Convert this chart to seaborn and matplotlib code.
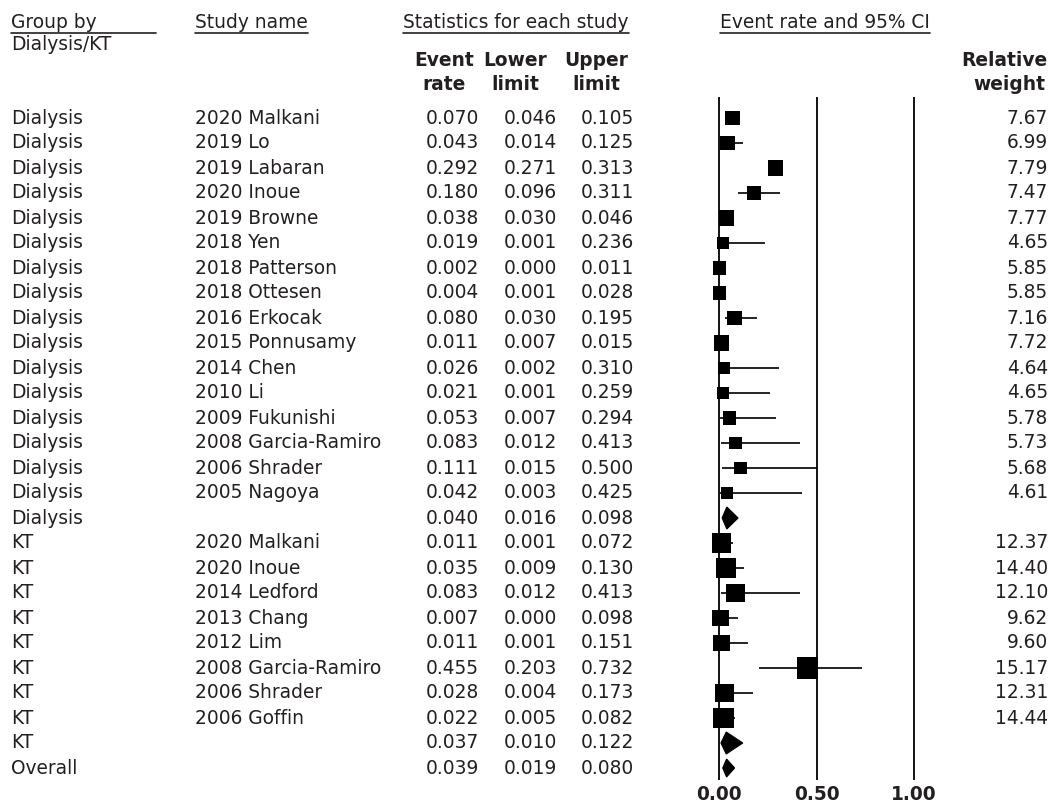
import numpy as np
import pandas as pd
import matplotlib
matplotlib.use("Agg")
import matplotlib.pyplot as plt
import matplotlib.transforms as mtransforms
from matplotlib.patches import Polygon
import seaborn as sns

# ---------------- data ----------------
groups = ["Dialysis"] * 17 + ["KT"] * 9 + ["Overall"]
studies = [
    "2020 Malkani", "2019 Lo", "2019 Labaran", "2020 Inoue", "2019 Browne",
    "2018 Yen", "2018 Patterson", "2018 Ottesen", "2016 Erkocak", "2015 Ponnusamy",
    "2014 Chen", "2010 Li", "2009 Fukunishi", "2008 Garcia-Ramiro", "2006 Shrader",
    "2005 Nagoya", "",
    "2020 Malkani", "2020 Inoue", "2014 Ledford", "2013 Chang", "2012 Lim",
    "2008 Garcia-Ramiro", "2006 Shrader", "2006 Goffin", "",
    "",
]
event_rate = [0.070, 0.043, 0.292, 0.180, 0.038, 0.019, 0.002, 0.004, 0.080, 0.011,
              0.026, 0.021, 0.053, 0.083, 0.111, 0.042, 0.040,
              0.011, 0.035, 0.083, 0.007, 0.011, 0.455, 0.028, 0.022, 0.037,
              0.039]
lower_limit = [0.046, 0.014, 0.271, 0.096, 0.030, 0.001, 0.000, 0.001, 0.030, 0.007,
               0.002, 0.001, 0.007, 0.012, 0.015, 0.003, 0.016,
               0.001, 0.009, 0.012, 0.000, 0.001, 0.203, 0.004, 0.005, 0.010,
               0.019]
upper_limit = [0.105, 0.125, 0.313, 0.311, 0.046, 0.236, 0.011, 0.028, 0.195, 0.015,
               0.310, 0.259, 0.294, 0.413, 0.500, 0.425, 0.098,
               0.072, 0.130, 0.413, 0.098, 0.151, 0.732, 0.173, 0.082, 0.122,
               0.080]
relative_weight = [7.67, 6.99, 7.79, 7.47, 7.77, 4.65, 5.85, 5.85, 7.16, 7.72,
                   4.64, 4.65, 5.78, 5.73, 5.68, 4.61, None,
                   12.37, 14.40, 12.10, 9.62, 9.60, 15.17, 12.31, 14.44, None,
                   None]
axis_ticks = [0.0, 0.5, 1.0]
axis_tick_labels = ["0.00", "0.50", "1.00"]

# ---------------- figure ----------------
W, H = 1054, 806
sns.set_theme(style="white")
plt.rcParams["font.family"] = ["DejaVu Sans"]
TXT = "#231f20"
FS = 13.4

fig = plt.figure(figsize=(W / 100, H / 100), dpi=100)
ax = fig.add_axes([0, 0, 1, 1])
ax.set_axis_off()

X0, XS = 719.0, 195.0          # pixel of 0.00, pixels per unit
Y0, YS = 118.0, 25.0           # pixel of first row, pixels per row


def yrow(py):
    return (py - Y0) / YS


df = pd.DataFrame({
    "group": groups, "study": studies, "rate": event_rate,
    "lo": lower_limit, "hi": upper_limit, "weight": relative_weight,
})
df["row"] = np.arange(len(df))
studies_df = df[df["study"] != ""].copy()
studies_df["weight"] = studies_df["weight"].astype(float)

# confidence interval lines
ax.hlines(studies_df["row"], studies_df["lo"], studies_df["hi"],
          color="black", lw=1.2, zorder=2)

# weighted squares (area proportional to relative weight)
k = 15.2
wmin, wmax = studies_df["weight"].min(), studies_df["weight"].max()
sns.scatterplot(data=studies_df, x="rate", y="row", size="weight",
                sizes=(k * wmin, k * wmax), size_norm=(wmin, wmax),
                marker="s", color="black", linewidth=0, legend=False,
                ax=ax, zorder=3)

# summary diamonds
summ = df[df["study"] == ""]
for _, r in summ.iterrows():
    h = 0.36 if r["group"] == "Overall" else 0.44
    poly = Polygon([(r["lo"], r["row"]), (r["rate"], r["row"] - h),
                    (r["hi"], r["row"]), (r["rate"], r["row"] + h)],
                   closed=True, facecolor="black", edgecolor="black", lw=0.8, zorder=3)
    ax.add_patch(poly)

# reference lines
ax.vlines(axis_ticks, yrow(97), yrow(780), color="black", lw=1.3, zorder=1)

ax.set_xlim(-X0 / XS, (W - X0) / XS)
ax.set_ylim(yrow(H), yrow(0))

# ---------------- text ----------------
bt = mtransforms.blended_transform_factory(ax.transAxes, ax.transData)


def px(x):
    return x / W


for _, r in df.iterrows():
    y = r["row"]
    ax.text(px(11), y, r["group"], transform=bt, ha="left", va="center", fontsize=FS, color=TXT)
    if r["study"]:
        ax.text(px(195), y, r["study"], transform=bt, ha="left", va="center", fontsize=FS, color=TXT)
    ax.text(px(479), y, f"{r['rate']:.3f}", transform=bt, ha="right", va="center", fontsize=FS, color=TXT)
    ax.text(px(557), y, f"{r['lo']:.3f}", transform=bt, ha="right", va="center", fontsize=FS, color=TXT)
    ax.text(px(634), y, f"{r['hi']:.3f}", transform=bt, ha="right", va="center", fontsize=FS, color=TXT)
    if pd.notna(r["weight"]):
        ax.text(px(1048), y, f"{r['weight']:.2f}", transform=bt, ha="right", va="center",
                fontsize=FS, color=TXT)

# headers
hdr_y = yrow(23)
t_group = ax.text(px(11), hdr_y, "Group by", transform=bt, ha="left", va="center", fontsize=FS, color=TXT)
ax.text(px(11), yrow(45), "Dialysis/KT", transform=bt, ha="left", va="center", fontsize=FS, color=TXT)
t_study = ax.text(px(195), hdr_y, "Study name", transform=bt, ha="left", va="center", fontsize=FS, color=TXT)
t_stats = ax.text(px(403), hdr_y, "Statistics for each study", transform=bt, ha="left", va="center",
                  fontsize=FS, color=TXT)
t_ci = ax.text(px(720), hdr_y, "Event rate and 95% CI", transform=bt, ha="left", va="center",
               fontsize=FS, color=TXT)

for cx, l1, l2 in [(444, "Event", "rate"), (515, "Lower", "limit"), (596, "Upper", "limit")]:
    ax.text(px(cx), yrow(60), l1, transform=bt, ha="center", va="center", fontsize=FS,
            fontweight="bold", color=TXT)
    ax.text(px(cx), yrow(84), l2, transform=bt, ha="center", va="center", fontsize=FS,
            fontweight="bold", color=TXT)
ax.text(px(1047), yrow(60), "Relative", transform=bt, ha="right", va="center", fontsize=FS,
        fontweight="bold", color=TXT)
ax.text(px(1045), yrow(84), "weight", transform=bt, ha="right", va="center", fontsize=FS,
        fontweight="bold", color=TXT)

# axis tick labels
for tv, tl in zip(axis_ticks, axis_tick_labels):
    ax.text(tv, yrow(795), tl, ha="center", va="center", fontsize=FS, fontweight="bold", color=TXT)

# underlines under header texts
fig.canvas.draw()
renderer = fig.canvas.get_renderer()
inv = ax.transData.inverted()
ul_y = yrow(33)
for t, extra_right in [(t_group, 156), (t_study, None), (t_stats, None), (t_ci, None)]:
    bb = t.get_window_extent(renderer)
    x_left = bb.x0 / W
    x_right = (extra_right / W) if extra_right else bb.x1 / W
    ax.plot([x_left, x_right], [ul_y, ul_y], transform=bt, color=TXT, lw=1.2)

fig.savefig("out.png", dpi=100)
